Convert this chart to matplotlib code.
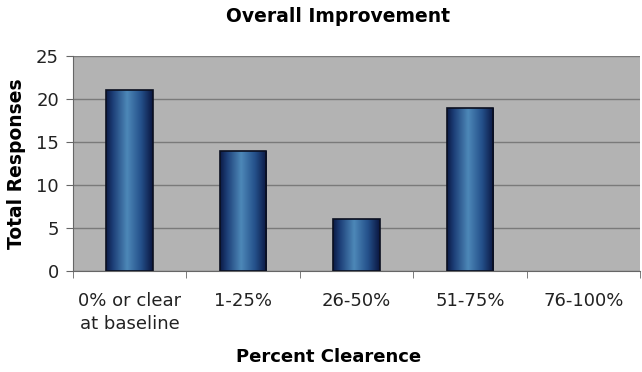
import numpy as np
import matplotlib
matplotlib.use("Agg")
import matplotlib.pyplot as plt
from matplotlib.colors import LinearSegmentedColormap

categories = ["0% or clear\nat baseline", "1-25%", "26-50%", "51-75%", "76-100%"]
values = [21, 14, 6, 19, 0]
yticks = [0, 5, 10, 15, 20, 25]

plt.rcParams['font.family'] = ['DejaVu Sans']

fig = plt.figure(figsize=(6.42, 3.72), dpi=100)
ax = fig.add_axes([0.1137, 0.2715, 0.8833, 0.578])
ax.set_facecolor("#b3b3b3")

x = np.arange(len(categories))
bars = ax.bar(x, values, width=0.41, color="none", edgecolor="#0a0f20", linewidth=1.2, zorder=3)

cmap = LinearSegmentedColormap.from_list(
    "barg", [(0.0, "#0b1a45"), (0.15, "#1d3f78"), (0.45, "#4d88b8"), (0.75, "#24508a"), (1.0, "#0a1640")])
grad = np.linspace(0, 1, 256).reshape(1, -1)
for b in bars:
    if b.get_height() <= 0:
        b.set_linewidth(0)
        continue
    bx, by = b.get_x(), b.get_y()
    im = ax.imshow(grad, cmap=cmap, aspect="auto", zorder=2,
                   extent=[bx, bx + b.get_width(), by, by + b.get_height()])
    im.set_clip_path(b)

ax.set_xlim(-0.5, len(categories) - 0.5)
ax.set_ylim(0, 25)
ax.set_yticks(yticks)
ax.yaxis.grid(True, color="#7a7a7a", linewidth=1.0, zorder=1)
ax.set_axisbelow(True)

ax.set_xticks(x)
ax.set_xticklabels(categories, fontsize=13, color="#222222", linespacing=1.4)
ax.set_xticks(np.arange(-0.5, len(categories)), minor=True)
ax.tick_params(axis="x", which="major", length=0, pad=15)
ax.tick_params(axis="x", which="minor", length=5, color="#666666")
ax.tick_params(axis="y", length=5, color="#666666", labelsize=13, labelcolor="#222222", pad=5)

for s in ["top", "right"]:
    ax.spines[s].set_visible(False)
ax.spines["left"].set_color("#666666")
ax.spines["bottom"].set_color("#666666")

ax.set_ylabel("Total Responses", fontsize=13.5, fontweight="bold", labelpad=7)
fig.text(329 / 642, 1 - 357 / 372, "Percent Clearence", fontsize=13, fontweight="bold",
         ha="center", va="center")
fig.text(338 / 642, 1 - 16 / 372, "Overall Improvement", fontsize=13.5, fontweight="bold",
         ha="center", va="center")

fig.savefig("out.png", dpi=100)
